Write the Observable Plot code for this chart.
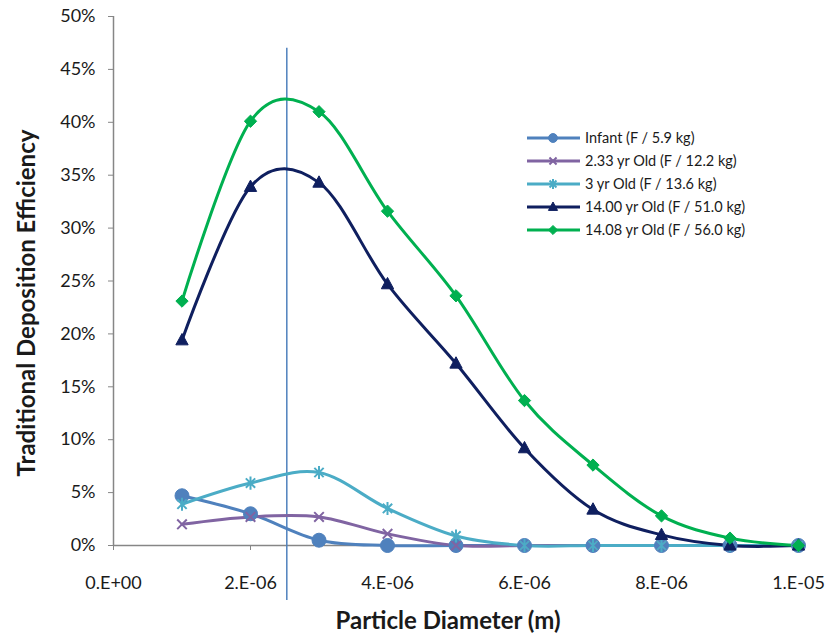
<!DOCTYPE html>
<html>
<head>
<meta charset="utf-8">
<script src="https://cdn.jsdelivr.net/npm/d3@7"></script>
<script src="https://cdn.jsdelivr.net/npm/@observablehq/plot@0.6"></script>
<style>
  html, body { margin: 0; padding: 0; background: #fff; }
  #chart { position: relative; width: 826px; height: 639px; font-family: Lato, "Open Sans", sans-serif; }
  #legend { position: absolute; left: 520px; top: 127px; }
</style>
</head>
<body>
<div id="chart"></div>
<script>
// Particle diameters (m) and deposition efficiency (%) per subject
const diameters = [1e-6, 2e-6, 3e-6, 4e-6, 5e-6, 6e-6, 7e-6, 8e-6, 9e-6, 1e-5];
const infant    = [4.7, 3.0, 0.5, 0, 0, 0, 0, 0, 0, 0];
const age2_33   = [2.0, 2.7, 2.7, 1.1, 0, 0, 0, 0, 0, 0];
const age3      = [3.9, 5.9, 6.9, 3.5, 0.9, 0, 0, 0, 0, 0];
const age14_00  = [19.4, 33.9, 34.3, 24.7, 17.2, 9.2, 3.4, 1.0, 0, 0];
const age14_08  = [23.1, 40.1, 41.0, 31.6, 23.6, 13.7, 7.6, 2.8, 0.7, 0];

const seriesNames = [
  "Infant (F / 5.9 kg)",
  "2.33 yr Old (F / 12.2 kg)",
  "3 yr Old (F / 13.6 kg)",
  "14.00 yr Old (F / 51.0 kg)",
  "14.08 yr Old (F / 56.0 kg)"
];
const seriesValues = [infant, age2_33, age3, age14_00, age14_08];
const seriesColors = ["#4F81BD", "#8064A2", "#4BACC6", "#0F1F5F", "#00B050"];

// Marker reference line position
const markerDiameter = 2.53e-6;
const markerSpan = [-5.2, 47.0];

const xTicks = [0, 2e-6, 4e-6, 6e-6, 8e-6, 1e-5];
const xTickLabels = ["0.E+00", "2.E-06", "4.E-06", "6.E-06", "8.E-06", "1.E-05"];
const yTicks = [0, 5, 10, 15, 20, 25, 30, 35, 40, 45, 50];
const yTickLabels = ["0%", "5%", "10%", "15%", "20%", "25%", "30%", "35%", "40%", "45%", "50%"];

// Excel-style marker shapes
const starSymbol = {
  draw(ctx, size) {
    const r = Math.sqrt(size) * 0.62;
    const d = r * Math.SQRT1_2;
    ctx.moveTo(0, -r); ctx.lineTo(0, r);
    ctx.moveTo(-d, -d); ctx.lineTo(d, d);
    ctx.moveTo(-d, d); ctx.lineTo(d, -d);
  }
};
const crossSymbol = {
  draw(ctx, size) {
    const d = Math.sqrt(size) * 0.45;
    ctx.moveTo(-d, -d); ctx.lineTo(d, d);
    ctx.moveTo(-d, d); ctx.lineTo(d, -d);
  }
};
const triangleSymbol = {
  draw(ctx, size) {
    const s = Math.sqrt(size) * 0.55;
    ctx.moveTo(0, -s * 1.1); ctx.lineTo(s, s * 0.75); ctx.lineTo(-s, s * 0.75); ctx.closePath();
  }
};
const diamondSymbol = {
  draw(ctx, size) {
    const s = Math.sqrt(size) * 0.55;
    ctx.moveTo(0, -s); ctx.lineTo(s, 0); ctx.lineTo(0, s); ctx.lineTo(-s, 0); ctx.closePath();
  }
};
const seriesMarkers = [
  {symbol: "circle", r: 7, filled: true},
  {symbol: crossSymbol, r: 6, filled: false},
  {symbol: starSymbol, r: 6, filled: false},
  {symbol: triangleSymbol, r: 6.3, filled: true},
  {symbol: diamondSymbol, r: 6.3, filled: true}
];

const rows = seriesNames.flatMap((name, s) =>
  diameters.map((d, i) => ({series: s, name, d, v: seriesValues[s][i]}))
);

const gray = "#868686";
const ink = "#1a1a1a";

const lineMarks = seriesNames.map((name, s) =>
  Plot.line(rows.filter(r => r.series === s), {
    x: "d", y: "v", stroke: seriesColors[s], strokeWidth: 3,
    curve: "cardinal", tension: 0
  })
);
const dotMarks = seriesNames.map((name, s) => {
  const m = seriesMarkers[s];
  return Plot.dot(rows.filter(r => r.series === s), {
    x: "d", y: "v", symbol: () => m.symbol, r: m.r,
    fill: m.filled ? seriesColors[s] : "none",
    stroke: seriesColors[s], strokeWidth: m.filled ? 1 : 2
  });
});

const plot = Plot.plot({
  width: 826,
  height: 639,
  marginLeft: 113,
  marginRight: 28,
  marginTop: 16,
  marginBottom: 94,
  style: {fontFamily: "Lato, 'Open Sans', sans-serif", background: "#fff", overflow: "visible"},
  x: {domain: [0, 1e-5]},
  y: {domain: [0, 50]},
  symbol: {type: "identity"},
  marks: [
    Plot.ruleY([0], {x1: 0, x2: 1e-5, stroke: gray, strokeWidth: 1.5}),
    Plot.ruleX([0], {y1: 0, y2: 50, stroke: gray, strokeWidth: 1.5}),
    Plot.axisX({
      ticks: xTicks, tickSize: 5, tickPadding: 26, stroke: gray,
      tickFormat: d => xTickLabels[xTicks.indexOf(d)],
      fontSize: 18, fill: ink, label: null
    }),
    Plot.axisY({
      ticks: yTicks, tickSize: 5, tickPadding: 13, stroke: gray,
      tickFormat: d => yTickLabels[yTicks.indexOf(d)],
      fontSize: 18, fill: ink, label: null
    }),
    Plot.ruleX([markerDiameter], {y1: markerSpan[0], y2: markerSpan[1], stroke: "#4F81BD", strokeWidth: 1.5}),
    ...lineMarks,
    ...dotMarks,
    Plot.text(["Traditional Deposition Efficiency"], {
      frameAnchor: "left", textAnchor: "middle", rotate: -90, dx: -86, dy: 22,
      fontSize: 24, fontWeight: "bold", fill: ink
    }),
    Plot.text(["Particle Diameter (m)"], {
      frameAnchor: "bottom", dy: 83, dx: -8,
      fontSize: 24, fontWeight: "bold", fill: ink
    })
  ]
});
const chart = document.getElementById("chart");
chart.appendChild(plot);

// Legend
const rowH = 23;
const legend = d3.select(chart).append("svg")
  .attr("id", "legend")
  .attr("width", 290)
  .attr("height", rowH * seriesNames.length + 10);
seriesNames.forEach((name, s) => {
  const g = legend.append("g").attr("transform", `translate(0,${11 + s * rowH})`);
  g.append("line").attr("x1", 7).attr("x2", 60).attr("y1", 0).attr("y2", 0)
    .attr("stroke", seriesColors[s]).attr("stroke-width", 3);
  const m = seriesMarkers[s];
  const sym = m.symbol === "circle" ? d3.symbolCircle : m.symbol;
  g.append("path")
    .attr("d", d3.symbol(sym, (m.symbol === "circle" ? 0.4 : 0.55) * Math.PI * m.r * m.r)())
    .attr("transform", "translate(33,0)")
    .attr("fill", m.filled ? seriesColors[s] : "none")
    .attr("stroke", seriesColors[s]).attr("stroke-width", m.filled ? 1 : 2);
  g.append("text").attr("x", 65).attr("y", 0).attr("dy", "0.35em")
    .attr("font-size", 14.5).attr("fill", ink)
    .attr("font-family", "Lato, 'Open Sans', sans-serif")
    .text(name);
});
</script>
</body>
</html>
